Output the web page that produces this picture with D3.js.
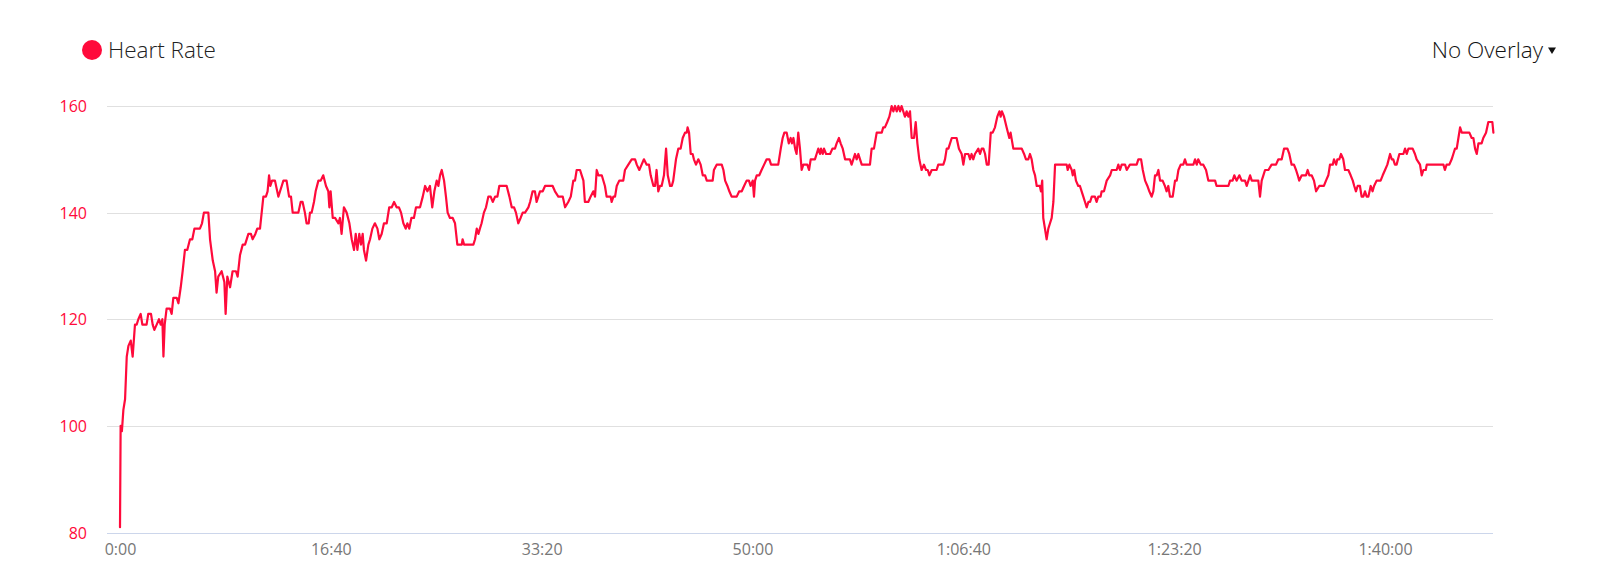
<!DOCTYPE html>
<html><head><meta charset="utf-8">
<script src="https://cdn.jsdelivr.net/npm/d3@7"></script>
<style>
html,body{margin:0;padding:0;background:#fff;}
svg{display:block;font-family:"Open Sans",sans-serif;}
</style></head>
<body>
<svg id="chart" width="1600" height="584"></svg>
<script>
// Elapsed time (seconds) of each sample
const timeSec = [
0,3,9,16,24,32,40,51,60,71,79,87,98,106,126,134,147,155,163,174,185,193,201,206,212,221,237,245,253,269,277,288,297,308,319,332,343,353,367,379,389,398,419,427,440,451,458,466,482,495,501,509,522,534,550,558,569,582,593,609,621,629,642,651,664,672,680,692,700,707,713,721,735,751,767,775,790,802,811,819,846,857,866,877,885,895,901,909,920,928,941,952,964,977,988,993,999,1009,1020,1036,1043,
1051,1062,1075,1088,1099,1110,1118,1126,1135,1143,1151,1157,1167,1178,1186,1197,1209,1221,1230,1241,1252,1265,1277,1289,1300,1312,1323,1333,1344,1355,1363,1372,1382,1394,1404,1423,1436,1447,1458,1470,1481,1491,1502,1510,1518,1526,1537,1546,1554,1565,1578,1589,1600,1621,1625,1632,1676,1684,1692,1700,1707,1715,1726,1736,1747,1758,1768,1779,1790,1799,1834,1847,1858,1869,1878,1889,1900,1910,1921,1937,1945,1957,1968,1976,1984,1992,2005,2016,2052,2063,2079,2100,2111,2126,2138,2150,2158,2166,
2182,2190,2198,2205,2221,2232,2245,2253,2261,2269,2285,2300,2308,2327,2332,2340,2348,2356,2368,2387,2395,2411,2427,2443,2451,2463,2474,2485,2498,2509,2517,2530,2538,2545,2553,2561,2569,2580,2590,2598,2609,2617,2624,2637,2648,2659,2669,2680,2688,2692,2699,2707,2716,2722,2732,2743,2754,2764,2775,2783,2811,2817,2830,2854,2862,2870,2881,2890,2901,2925,2937,2949,2960,2972,2983,2991,3001,3007,3012,3020,3032,3043,3055,3067,3080,3088,3122,3134,3143,3151,3162,3172,3181,3187,3194,3202,3209,3217,3225,3233,3241,3260,
3268,3276,3296,3304,3312,3320,3325,3333,3339,3349,3368,3379,3391,3399,3410,3418,3428,3439,3462,3470,3478,3486,3494,3502,3510,3518,3557,3565,3576,3589,3613,3620,3628,3639,3649,3660,3668,3676,3684,3692,3700,3707,3715,3723,3731,3739,3747,3755,3766,3774,3782,3791,3802,3813,3823,3831,3839,3850,3873,3881,3905,3913,3921,3929,3945,3968,3979,3992,4000,4008,4024,4032,4039,4047,4055,4071,4079,4087,4095,4103,4111,4120,4130,4139,4150,4161,4171,4177,4183,4193,4205,4218,4224,4237,4253,4277,4288,4297,4308,4316,4324,4332,4340,4348,4356,
4363,4368,4374,4379,4387,4395,4403,4411,4419,4427,4435,4443,4490,4495,4503,4514,4519,4526,4534,4545,4553,4561,4569,4577,4585,4593,4601,4609,4624,4632,4640,4651,4656,4667,4680,4696,4704,4727,4735,4743,4751,4767,4775,4790,4822,4830,4843,4851,4862,4873,4882,4893,4901,4909,4917,4925,4933,4945,4956,4964,4972,4980,4993,5004,5012,5020,5031,5043,5051,5059,5091,5099,5107,5114,5126,5138,5151,5162,5194,5201,5257,5265,5277,5285,5296,5309,5320,5336,5344,5352,5360,5368,5399,5407,5415,5423,5431,
5447,5462,5483,5494,5510,5521,5537,5546,5557,5568,5578,5586,5593,5605,5625,5633,5641,5652,5663,5673,5688,5710,5720,5731,5739,5752,5758,5768,5774,5783,5791,5802,5810,5826,5837,5847,5854,5862,5870,5881,5889,5897,5905,5913,5921,5932,5941,5948,5960,5979,5989,6000,6011,6024,6032,6039,6047,6055,6068,6087,6095,6103,6111,6131,6142,6150,6166,6174,6182,6193,6198,6277,6284,6292,6305,6316,6324,6332,6340,6348,6356,6364,6379,6400,6411,6419,6427,6435,6443,6458,6466,6479,6490,6503,6509,6514
];
// Heart rate (bpm) at each sample
const heartRate = [
81,100,99,103,105,113,115,116,113,119,119,120,121,119,119,121,121,119,118,119,120,119,120,113,119,122,122,121,124,124,123,126,129,133,133,135,135,137,137,137,138,140,140,135,131,129,125,128,129,127,121,128,126,129,129,128,132,134,134,136,136,135,136,137,137,140,143,143,144,147,145,146,146,143,145,146,146,143,143,140,140,142,142,140,138,138,140,140,142,144,146,146,147,145,144,141,144,139,139,138,139,
136,141,140,138,135,133,136,133,136,134,136,133,131,134,135,137,138,137,135,136,138,138,141,141,142,141,141,140,138,137,138,137,139,139,141,141,143,145,144,145,141,144,146,145,147,148,146,143,140,139,139,138,134,134,135,134,134,135,137,136,137,138,140,141,143,143,142,143,143,145,145,143,141,141,140,138,139,140,140,141,142,144,144,142,143,144,144,145,145,144,143,143,141,142,143,146,146,148,
148,147,146,142,142,143,144,143,148,147,147,145,143,143,142,143,143,145,146,146,148,149,150,150,149,148,149,150,149,149,147,145,145,148,144,145,145,147,152,147,145,145,146,150,152,152,154,155,155,156,155,151,151,150,149,150,149,147,147,146,146,148,149,149,148,146,145,144,143,143,144,144,145,146,146,145,146,143,146,147,147,148,149,150,150,149,149,152,154,155,155,153,154,153,154,152,151,155,152,148,149,149,
148,150,150,151,152,151,152,151,152,151,151,152,152,153,154,153,152,150,150,149,150,151,150,151,150,149,149,152,152,155,155,156,156,157,158,160,159,160,159,160,159,160,159,158,159,158,159,154,154,157,153,150,148,149,148,148,147,148,148,149,149,150,152,152,154,154,152,151,149,151,151,150,151,150,151,152,151,152,152,151,149,149,155,155,156,158,159,158,159,158,156,154,155,152,152,152,151,150,150,151,150,148,147,145,145,
145,144,146,139,137,135,137,138,139,142,149,149,149,148,149,148,147,148,146,145,145,144,143,142,141,142,142,143,143,142,143,143,144,144,146,147,148,148,149,148,149,149,148,149,149,150,150,148,146,145,144,143,144,147,147,148,146,146,145,144,145,143,143,146,146,148,149,149,150,149,149,150,149,150,149,149,148,146,146,145,145,146,146,147,146,147,146,146,145,146,147,146,146,143,146,147,148,
148,149,149,150,150,152,152,151,149,149,148,147,146,147,147,148,147,147,146,144,145,145,146,147,149,149,150,149,150,150,151,150,148,148,147,146,145,144,145,145,143,143,144,143,143,145,144,145,146,146,147,148,149,151,150,150,149,149,151,151,152,151,152,152,151,150,149,147,148,148,149,149,148,149,149,150,151,152,152,154,156,155,155,155,154,154,152,151,153,153,154,155,157,157,157,155
];
const yTicks = [80, 100, 120, 140, 160];
const xTicks = [0, 1000, 2000, 3000, 4000, 5000, 6000];
const seriesName = "Heart Rate";
const overlayLabel = "No Overlay";

const RED = "#ff0a3b";
const svg = d3.select("#chart");
svg.append("rect").attr("width",1600).attr("height",584).attr("fill","#fff");

const data = timeSec.map((t,i)=>({t, v: heartRate[i]}));
const x = d3.scaleLinear().domain([0, d3.max(timeSec)]).range([120, 1493.4]);
const y = d3.scaleLinear().domain([80, 160]).range([532.5, 106]);
const gridLeft = 107, gridRight = 1493;

function fmt(s){
  const h = Math.floor(s/3600), m = Math.floor((s%3600)/60), sec = Math.round(s%60);
  const ss = String(sec).padStart(2,"0");
  return h>0 ? `${h}:${String(m).padStart(2,"0")}:${ss}` : `${m}:${ss}`;
}

// grid lines
svg.append("g").selectAll("line").data(yTicks).join("line")
  .attr("x1", gridLeft).attr("x2", gridRight)
  .attr("y1", d=>Math.round(y(d))+0.5).attr("y2", d=>Math.round(y(d))+0.5)
  .attr("stroke", d=> d===80 ? "#ccd6eb" : "#e0e0e0").attr("stroke-width", 1);

// y axis labels
const yAxis = d3.axisLeft(y).tickValues(yTicks).tickSize(0).tickPadding(0);
const gy = svg.append("g").attr("transform","translate(87,0)").call(yAxis);
gy.select(".domain").remove();
gy.selectAll("text").attr("fill", RED).attr("font-size", 16).attr("font-family","'Open Sans',sans-serif").attr("dy","0.35em");

// x axis labels
const xAxis = d3.axisBottom(x).tickValues(xTicks).tickFormat(fmt).tickSize(0).tickPadding(0);
const gx = svg.append("g").attr("transform","translate(0,544)").call(xAxis);
gx.select(".domain").remove();
gx.selectAll("text").attr("fill", "#777").attr("font-size", 16).attr("font-family","'Open Sans',sans-serif").attr("dy","0.71em");

// line
const line = d3.line().x(d=>x(d.t)).y(d=>y(d.v));
svg.append("path").datum(data).attr("d", line)
  .attr("fill","none").attr("stroke", RED).attr("stroke-width", 2.2)
  .attr("stroke-linejoin","round").attr("stroke-linecap","round");

// legend
svg.append("circle").attr("cx", 92).attr("cy", 50).attr("r", 10).attr("fill", RED);
svg.append("text").attr("x", 108).attr("y", 58).text(seriesName)
  .attr("font-size", 22.5).attr("font-weight", 300).attr("fill", "#222");

// overlay selector
svg.append("text").attr("x", 1543).attr("y", 57.5).attr("text-anchor","end").text(overlayLabel)
  .attr("font-size", 22.5).attr("font-weight", 300).attr("fill", "#111");
svg.append("path").attr("d","M1548,47.5 L1556,47.5 L1552,54 Z").attr("fill","#111");
</script>
</body></html>
